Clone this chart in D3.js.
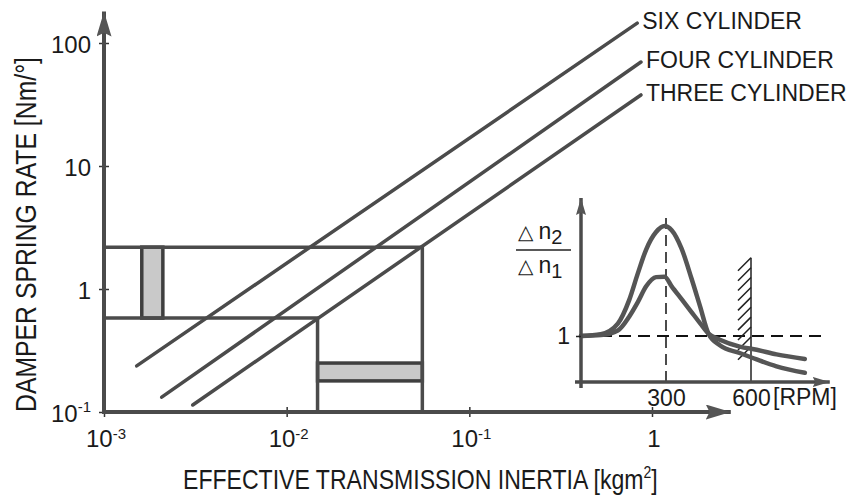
<!DOCTYPE html>
<html>
<head>
<meta charset="utf-8">
<script src="https://cdn.jsdelivr.net/npm/d3@7"></script>
<style>
body {margin:0; background:#fff}
text {font-family:"Liberation Sans", Arial, Helvetica, sans-serif; fill:#1a1a1a}
</style>
</head>
<body>
<svg id="graph1"></svg>
<script>
// main chart: effective transmission inertia [kgm2] vs damper spring rate [Nm/deg]
var cylinderNames = ["SIX CYLINDER", "FOUR CYLINDER", "THREE CYLINDER"]
var cylinderStart = [[0.00151, 0.237], [0.00207, 0.132], [0.00306, 0.114]]
var cylinderEnd = [[0.83, 145], [0.87, 70], [0.87, 37.8]]

var xTicks = [0.001, 0.01, 0.1, 1]
var xTickBase = ["10", "10", "10", "1"]
var xTickPower = ["-3", "-2", "-1", ""]
var yTicks = [0.1, 1, 10, 100]
var yTickBase = ["10", "1", "10", "100"]
var yTickPower = ["-1", "", "", ""]

// range boxes: corner (inertia, rate) of each box, boxes start at the axes
var boxCorners = [[0.0553, 2.19], [0.01476, 0.58]]
// shaded ranges: [inertia from, inertia to, rate from, rate to]
var shadedRanges = [[0.00161, 0.0021, 0.58, 2.19], [0.01476, 0.0553, 0.179, 0.25]]

// inset: amplification delta n2 / delta n1 vs engine speed
var rpm = [0, 70, 130, 170, 200, 230, 265, 295, 320, 355, 390, 420, 450, 490, 560, 620, 690, 790]
var ratioUndamped = [1.0, 1.04, 1.27, 1.78, 2.35, 2.88, 3.26, 3.39, 3.3, 2.9, 2.25, 1.65, 1.05, 0.8, 0.63, 0.49, 0.34, 0.2]
var ratioDamped = [1.0, 1.02, 1.12, 1.42, 1.73, 2.08, 2.28, 2.29, 2.08, 1.8, 1.52, 1.28, 1.05, 0.92, 0.77, 0.7, 0.6, 0.5]
var insetTicks = [300, 600]
var resonanceRpm = 300
var limitRpm = 600
var hatchRatio = [0.76, 2.7]

var lineColor = "#4b4b4b"

var initGraph = function()
{
    var screen = {width: 863, height: 497}

    var svg = d3.select("#graph1")
        .attr("width", screen.width)
        .attr("height", screen.height)

    var xScale = d3.scaleLog()
        .domain([0.001, 1])
        .range([104, 652])

    var yScale = d3.scaleLog()
        .domain([0.1, 100])
        .range([412, 43])

    var defs = svg.append("defs")
    makeArrow(defs, "bigArrow", 25, 15)
    makeArrow(defs, "smallArrow", 17, 10)

    drawBoxes(svg, xScale, yScale)
    drawLines(svg, xScale, yScale)
    drawAxes(svg, xScale, yScale)
    drawLabels(svg, xScale, yScale)

    drawInset(svg)
}

var makeArrow = function(defs, id, len, wid)
{
    defs.append("marker")
        .attr("id", id)
        .attr("markerUnits", "userSpaceOnUse")
        .attr("markerWidth", len)
        .attr("markerHeight", wid)
        .attr("refX", len)
        .attr("refY", wid / 2)
        .attr("orient", "auto")
        .append("path")
        .attr("d", "M0,0 L" + len + "," + (wid / 2) + " L0," + wid + " L" + (len * 0.15) + "," + (wid / 2) + " Z")
        .attr("fill", "#555")
}

var drawBoxes = function(svg, xScale, yScale)
{
    var g = svg.append("g")

    g.selectAll("rect.shade")
        .data(shadedRanges)
        .enter()
        .append("rect")
        .classed("shade", true)
        .attr("x", function(d) { return xScale(d[0]) })
        .attr("y", function(d) { return yScale(d[3]) })
        .attr("width", function(d) { return xScale(d[1]) - xScale(d[0]) })
        .attr("height", function(d) { return yScale(d[2]) - yScale(d[3]) })
        .attr("fill", "#c9c9c9")
        .attr("stroke", "#3f3f3f")
        .attr("stroke-width", 3.5)

    g.selectAll("path.box")
        .data(boxCorners)
        .enter()
        .append("path")
        .classed("box", true)
        .attr("d", function(d)
        {
            return "M" + xScale(0.001) + "," + yScale(d[1]) +
                   "L" + xScale(d[0]) + "," + yScale(d[1]) +
                   "L" + xScale(d[0]) + "," + yScale(0.1)
        })
        .attr("fill", "none")
        .attr("stroke", lineColor)
        .attr("stroke-width", 3.5)
}

var drawLines = function(svg, xScale, yScale)
{
    var g = svg.append("g")

    g.selectAll("line")
        .data(cylinderNames)
        .enter()
        .append("line")
        .attr("x1", function(d, i) { return xScale(cylinderStart[i][0]) })
        .attr("y1", function(d, i) { return yScale(cylinderStart[i][1]) })
        .attr("x2", function(d, i) { return xScale(cylinderEnd[i][0]) })
        .attr("y2", function(d, i) { return yScale(cylinderEnd[i][1]) })
        .attr("stroke", lineColor)
        .attr("stroke-width", 3.5)
        .attr("stroke-linecap", "round")

    g.selectAll("text")
        .data(cylinderNames)
        .enter()
        .append("text")
        .text(function(d) { return d })
        .attr("x", function(d, i) { return xScale(cylinderEnd[i][0]) + 5 })
        .attr("y", function(d, i) { return yScale(cylinderEnd[i][1]) + 6 })
        .attr("font-size", 23)
}

var drawAxes = function(svg, xScale, yScale)
{
    var xAxis = d3.axisBottom(xScale).tickValues(xTicks).tickFormat("").tickSize(5).tickSizeOuter(0)
    var yAxis = d3.axisLeft(yScale).tickValues(yTicks).tickFormat("").tickSize(5).tickSizeOuter(0)

    var axes = svg.append("g")

    var gx = axes.append("g")
        .attr("transform", "translate(0," + yScale(0.1) + ")")
        .call(xAxis)
    gx.select(".domain").remove()
    gx.selectAll(".tick line").attr("y1", -5).attr("stroke", "#333").attr("stroke-width", 1.5)

    var gy = axes.append("g")
        .attr("transform", "translate(" + xScale(0.001) + ",0)")
        .call(yAxis)
    gy.select(".domain").remove()
    gy.selectAll(".tick line").attr("x1", 5).attr("stroke", "#333").attr("stroke-width", 1.5)

    // axis lines with arrow heads
    axes.append("line")
        .attr("x1", xScale(0.001) - 2).attr("y1", yScale(0.1))
        .attr("x2", xScale(2.7)).attr("y2", yScale(0.1))
        .attr("stroke", lineColor).attr("stroke-width", 4)
        .attr("marker-end", "url(#bigArrow)")

    axes.append("line")
        .attr("x1", xScale(0.001)).attr("y1", yScale(0.1) + 2)
        .attr("x2", xScale(0.001)).attr("y2", yScale(180))
        .attr("stroke", lineColor).attr("stroke-width", 4)
        .attr("marker-end", "url(#bigArrow)")

    var xl = axes.selectAll("text.xtick")
        .data(xTicks)
        .enter()
        .append("text")
        .classed("xtick", true)
        .attr("x", function(d) { return xScale(d) + 2 })
        .attr("y", 447)
        .attr("text-anchor", "middle")
        .style("font-size", "24px")
    xl.append("tspan").text(function(d, i) { return xTickBase[i] })
    xl.append("tspan").style("font-size", "15px").attr("dy", -8).text(function(d, i) { return xTickPower[i] })

    var yl = axes.selectAll("text.ytick")
        .data(yTicks)
        .enter()
        .append("text")
        .classed("ytick", true)
        .attr("x", xScale(0.001) - 13)
        .attr("y", function(d) { return yScale(d) + 10 })
        .attr("text-anchor", "end")
        .style("font-size", "24px")
    yl.append("tspan").text(function(d, i) { return yTickBase[i] })
    yl.append("tspan").style("font-size", "15px").attr("dy", -10).text(function(d, i) { return yTickPower[i] })
}

var drawLabels = function(svg, xScale, yScale)
{
    var labels = svg.append("g").classed("labels", true)

    var xt = labels.append("text").style("font-size", "28px")
    xt.append("tspan").text("EFFECTIVE TRANSMISSION INERTIA [kgm")
    xt.append("tspan").style("font-size", "17px").attr("dy", -11).text("2")
    xt.append("tspan").attr("dy", 11).text("]")
    var wx = xt.node().getBBox().width
    xt.attr("transform", "translate(183,489) scale(" + (475 / wx) + ",1)")

    var yt = labels.append("text").style("font-size", "29px")
        .text("DAMPER SPRING RATE [Nm/\u00b0]")
    var wy = yt.node().getBBox().width
    yt.attr("transform", "translate(36,412) rotate(-90) scale(" + (355 / wy) + ",1)")
}

var drawInset = function(svg)
{
    var rScale = d3.scaleLinear().domain([0, 600]).range([581, 751])
    var qScale = d3.scaleLinear().domain([0, 1]).range([382, 336])

    var g = svg.append("g").classed("inset", true)

    // dashed reference lines
    g.append("line")
        .attr("x1", rScale(0)).attr("y1", qScale(1))
        .attr("x2", rScale(855)).attr("y2", qScale(1))
        .attr("stroke", "#111").attr("stroke-width", 2)
        .attr("stroke-dasharray", "12,7")
    g.append("line")
        .attr("x1", rScale(resonanceRpm)).attr("y1", qScale(0))
        .attr("x2", rScale(resonanceRpm)).attr("y2", qScale(3.67))
        .attr("stroke", "#111").attr("stroke-width", 1.5)
        .attr("stroke-dasharray", "11,6")

    // speed limit with hatching
    g.append("line")
        .attr("x1", rScale(limitRpm)).attr("y1", qScale(0))
        .attr("x2", rScale(limitRpm)).attr("y2", qScale(hatchRatio[1]))
        .attr("stroke", "#222").attr("stroke-width", 1.5)
    g.selectAll("line.hatch")
        .data(d3.range(hatchRatio[1], hatchRatio[0], -0.215))
        .enter()
        .append("line")
        .classed("hatch", true)
        .attr("x1", rScale(limitRpm - 46)).attr("y1", function(d) { return qScale(d) + 13 })
        .attr("x2", rScale(limitRpm)).attr("y2", function(d) { return qScale(d) })
        .attr("stroke", "#222").attr("stroke-width", 1.5)

    var line = d3.line()
        .x(function(d, i) { return rScale(rpm[i]) })
        .y(function(d) { return qScale(d) })
        .curve(d3.curveMonotoneX)

    g.selectAll("path.curve")
        .data([ratioUndamped, ratioDamped])
        .enter()
        .append("path")
        .classed("curve", true)
        .attr("d", line)
        .attr("fill", "none")
        .attr("stroke", "#555")
        .attr("stroke-width", 4.5)
        .attr("stroke-linecap", "round")

    // inset axes
    g.append("line")
        .attr("x1", rScale(0) - 6).attr("y1", qScale(0))
        .attr("x2", rScale(878)).attr("y2", qScale(0))
        .attr("stroke", lineColor).attr("stroke-width", 3.5)
        .attr("marker-end", "url(#smallArrow)")
    g.append("line")
        .attr("x1", rScale(0)).attr("y1", qScale(0) + 6)
        .attr("x2", rScale(0)).attr("y2", qScale(4.0))
        .attr("stroke", lineColor).attr("stroke-width", 3.5)
        .attr("marker-end", "url(#smallArrow)")

    var ax = g.append("g")
        .attr("transform", "translate(0," + qScale(0) + ")")
        .call(d3.axisBottom(rScale).tickValues(insetTicks).tickFormat(d3.format("d")).tickSize(0).tickPadding(8))
    ax.select(".domain").remove()
    ax.selectAll("text").attr("font-family", null).style("font-size", "23px").attr("fill", "#1a1a1a")

    var ay = g.append("g")
        .attr("transform", "translate(" + rScale(0) + ",0)")
        .call(d3.axisLeft(qScale).tickValues([1]).tickFormat(d3.format("d")).tickSize(5).tickPadding(6))
    ay.select(".domain").remove()
    ay.selectAll("line").attr("stroke", "#222").attr("stroke-width", 1.5)
    ay.selectAll("text").attr("font-family", null).style("font-size", "23px").attr("fill", "#1a1a1a")

    g.append("text")
        .text("[RPM]")
        .attr("x", rScale(600) + 22)
        .attr("y", qScale(0) + 23)
        .style("font-size", "23px")

    // delta n2 / delta n1
    var fx = rScale(0) - 63
    var top = g.append("text").attr("x", fx).attr("y", 239).style("font-size", "23px")
    top.append("tspan").style("font-family", "DejaVu Sans").style("font-size", "20px").text("\u25b3")
    top.append("tspan").attr("dx", 5).text("n")
    top.append("tspan").style("font-size", "20px").attr("dy", 5).text("2")

    g.append("line")
        .attr("x1", fx - 2).attr("y1", 250)
        .attr("x2", rScale(0) - 10).attr("y2", 250)
        .attr("stroke", "#222").attr("stroke-width", 1.5)

    var bot = g.append("text").attr("x", fx).attr("y", 273).style("font-size", "23px")
    bot.append("tspan").style("font-family", "DejaVu Sans").style("font-size", "20px").text("\u25b3")
    bot.append("tspan").attr("dx", 5).text("n")
    bot.append("tspan").style("font-size", "20px").attr("dy", 5).text("1")
}

initGraph()
</script>
</body>
</html>
